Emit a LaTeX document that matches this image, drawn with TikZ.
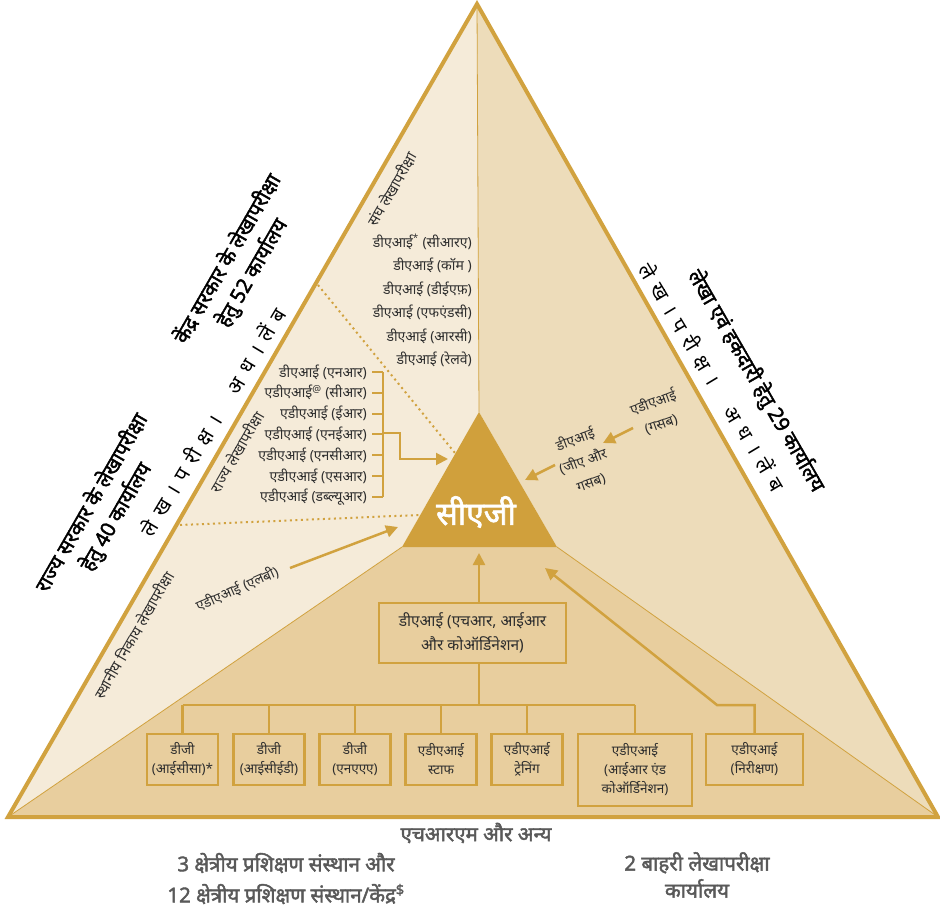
\documentclass[tikz,border=0pt]{standalone}
\usepackage{fontspec}
\setmainfont[Script=Devanagari]{Noto Sans}
\newfontfamily\bdev[Script=Devanagari, FakeBold=2]{Noto Sans}
\usetikzlibrary{arrows.meta}
\definecolor{gold}{HTML}{D1A23F}
\definecolor{lightbg}{HTML}{F5EBD9}
\definecolor{rightbg}{HTML}{EDDCBA}
\definecolor{botbg}{HTML}{E8CE9E}
\definecolor{cagfill}{HTML}{D0A03C}
\definecolor{txt}{HTML}{2E2E2E}
\definecolor{graytxt}{HTML}{595959}
\newcommand{\gsp}{\hspace{8.5pt}}
\begin{document}
\begin{tikzpicture}[x=1pt,y=-1pt,
  lbl/.style={font=\fontsize{14}{16}\selectfont, text=txt, inner sep=0pt},
  slbl/.style={font=\fontsize{15}{17}\selectfont, text=txt, inner sep=0pt},
  rlbl/.style={lbl, align=center, font=\fontsize{14}{23}\selectfont},
  biglbl/.style={font=\fontsize{20.5}{28}\bdev\selectfont, align=center, inner sep=0pt, text=black},
  spaced/.style={font=\fontsize{20.5}{22}\selectfont, inner sep=0pt, text=black},
  orgbox/.style={draw=gold, line width=2.5pt, align=center, inner sep=2pt,
    font=\fontsize{13.5}{19}\selectfont, text=txt},
  smallbox/.style={orgbox, minimum width=71pt, minimum height=51pt},
  hrbox/.style={orgbox, minimum width=187pt, minimum height=60pt, font=\fontsize{15.5}{24}\selectfont},
  bottxt/.style={font=\fontsize{20.5}{27}\bdev\selectfont, text=graytxt, inner sep=0pt, align=center},
  conn/.style={draw=gold, line width=2.5pt},
  arr/.style={conn, -{Triangle[length=12pt,width=12pt]}},
  dots/.style={draw=gold, line width=2pt, dash pattern=on 2pt off 3.5pt},
  thin/.style={draw=gold, line width=0.8pt},
  cagtxt/.style={font=\fontsize{32}{36}\bdev\selectfont, text=white, inner sep=0pt}
]
\useasboundingbox (0,0) rectangle (940,910);
% main geometry
\coordinate (A) at (477,4);
\coordinate (V) at (479,412);
\coordinate (L) at (402,547);
\coordinate (R) at (557,547);
\coordinate (BL) at (8,817);
\coordinate (BR) at (938,817);
\fill[lightbg] (A)--(V)--(L)--(BL)--cycle;
\fill[rightbg] (A)--(V)--(R)--(BR)--cycle;
\fill[botbg] (BL)--(L)--(R)--(BR)--cycle;
\draw[thin] (A)--(V);
\draw[thin] (L)--(BL);
\draw[thin] (R)--(BR);
\draw[draw=gold, line width=4pt] (A)--(BL)--(BR)--cycle;
% CAG
\fill[cagfill] (V)--(L)--(R)--cycle;
\node[cagtxt] (cag) at (476,512) {सीएजी};
% dotted separators
\coordinate (d1s) at (318,285);
\coordinate (d1e) at (455,453);
\coordinate (d2s) at (180,525);
\coordinate (d2e) at (419,515);
\draw[dots] (d1s)--(d1e);
\draw[dots] (d2s)--(d2e);
% outside labels
\node[biglbl, rotate=60] (kendra) at (240,266) {केंद्र सरकार के लेखापरीक्षा\\हेतु 52 कार्यालय};
\node[biglbl, rotate=60] (rajya) at (104,510) {राज्य सरकार के लेखापरीक्षा\\हेतु 40 कार्यालय};
\node[biglbl, rotate=-60] (lekha) at (756,381) {लेखा एवं हकदारी हेतु 29 कार्यालय};
\node[spaced, rotate=59] (g1) at (213,422) {ले\gsp ख\gsp ।\gsp प\gsp री\gsp क्ष\gsp ।\hspace{28pt}अ\gsp ध\gsp ।\gsp लें\gsp ब};
\node[spaced, rotate=-59] (g2) at (712,377) {ले\gsp ख\gsp ।\gsp प\gsp री\gsp क्ष\gsp ।\hspace{28pt}अ\gsp ध\gsp ।\gsp लें\gsp ब};
% inner rotated labels
\node[slbl, rotate=60] (sangh) at (392,189) {संघ लेखापरीक्षा};
\node[slbl, rotate=60] (rajyal) at (237,452) {राज्य लेखापरीक्षा};
\node[slbl, rotate=60] (sthan) at (134,635) {स्थानीय निकाय लेखापरीक्षा};
\node[lbl, rotate=24] (lb) at (237,589) {एडीएआई (एलबी)};
% union audit list
\node[lbl, anchor=east] (c1) at (472,242) {डीएआई\textsuperscript{*} (सीआरए)};
\node[lbl, anchor=east] (c2) at (472,265.5) {डीएआई (कॉम )};
\node[lbl, anchor=east] (c3) at (472,289) {डीएआई (डीईएफ़)};
\node[lbl, anchor=east] (c4) at (472,312) {डीएआई (एफएंडसी)};
\node[lbl, anchor=east] (c5) at (472,336) {डीएआई (आरसी)};
\node[lbl, anchor=east] (c6) at (472,359) {डीएआई (रेलवे)};
% state audit list
\node[lbl, anchor=east] (s1) at (367,372) {डीएआई (एनआर)};
\node[lbl, anchor=east] (s2) at (367,392.8) {एडीएआई\textsuperscript{@} (सीआर)};
\node[lbl, anchor=east] (s3) at (367,413.6) {एडीएआई (ईआर)};
\node[lbl, anchor=east] (s4) at (367,434.4) {एडीएआई (एनईआर)};
\node[lbl, anchor=east] (s5) at (367,455.2) {एडीएआई (एनसीआर)};
\node[lbl, anchor=east] (s6) at (367,476) {एडीएआई (एसआर)};
\node[lbl, anchor=east] (s7) at (367,496.8) {एडीएआई (डब्ल्यूआर)};
\coordinate (brx) at (383,0);
\foreach \s in {s1,s2,s3,s4,s5,s6,s7}{
  \draw[conn, line width=2pt] ([xshift=5pt]\s.east) -- (\s -| brx);
}
\draw[conn, line width=2pt] (s1 -| brx) -- (s7 -| brx);
\coordinate (sjoin) at (383,433);
\coordinate (sarr) at (448,459);
\draw[arr, line width=2pt] (sjoin) -- (400,433) -- (400,459) -- (sarr);
% LB arrow
\coordinate (lbs) at (290,568);
\coordinate (lbe) at (398,527);
\draw[arr] (lbs) -- (lbe);
% right side GA & GASAB
\node[rlbl, rotate=20] (ga) at (583,461) {डीएआई\\(जीए और\\गसब)};
\node[rlbl, rotate=20] (gs) at (657,413) {एडीएआई\\(गसब)};
\coordinate (gss) at (633,428);
\coordinate (gse) at (603,443);
\coordinate (gas) at (555,465);
\coordinate (gae) at (525,480);
\draw[arr] (gss) -- (gse);
\draw[arr] (gas) -- (gae);
% HR box and tree
\node[hrbox] (hr) at (472.5,633) {डीएआई (एचआर, आईआर\\और कोऑर्डिनेशन)};
\coordinate (hrt) at (479,553);
\draw[arr] (V |- hr.north) -- (hrt);
\coordinate (bus) at (479,705);
\node[smallbox] (b1) at (182.5,759.5) {डीजी\\(आईसीसा)*};
\node[smallbox] (b2) at (269,759.5) {डीजी\\(आईसीईडी)};
\node[smallbox] (b3) at (355,759.5) {डीजी\\(एनएएए)};
\node[smallbox] (b4) at (441,759.5) {एडीएआई\\स्टाफ};
\node[smallbox] (b5) at (527,759.5) {एडीएआई\\ट्रेनिंग};
\node[orgbox, minimum width=114pt, minimum height=72pt] (b6) at (635,770) {एडीएआई\\(आईआर एंड\\कोऑर्डिनेशन)};
\node[orgbox, minimum width=97pt, minimum height=51pt] (b7) at (754.5,759.5) {एडीएआई\\(निरीक्षण)};
\draw[conn] (V |- hr.south) -- (bus);
\draw[conn] (b1.north |- bus) -- (b6.north |- bus);
\foreach \b in {b1,b2,b3,b4,b5,b6}{
  \draw[conn] (\b.north) -- (\b.north |- bus);
}
\coordinate (b7t) at (545,568);
\draw[arr] (b7.north) -- (b7.north |- bus) -- (717,705) -- (b7t);
% bottom texts
\node[bottxt] (hrm) at (476,833) {एचआरएम और अन्य};
\node[bottxt] (rti1) at (286,863) {3 क्षेत्रीय प्रशिक्षण संस्थान और};
\node[bottxt] (rti2) at (286,894) {12 क्षेत्रीय प्रशिक्षण संस्थान/केंद्र\textsuperscript{\$}};
\node[bottxt] (ext) at (697,875) {2 बाहरी लेखापरीक्षा\\कार्यालय};
\end{tikzpicture}
\end{document}
